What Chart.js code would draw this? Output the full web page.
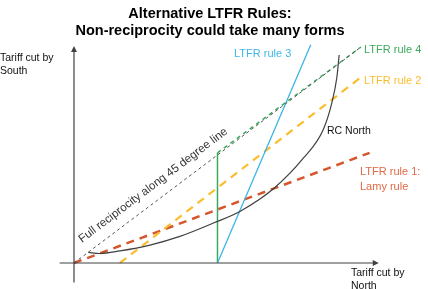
<!DOCTYPE html>
<html>
<head>
<meta charset="utf-8">
<script src="https://cdn.jsdelivr.net/npm/chart.js@4.4.0/dist/chart.umd.min.js"></script>
<style>
  html, body { margin: 0; padding: 0; background: #fff; }
  #wrap { width: 428px; height: 289px; }
</style>
</head>
<body>
<div id="wrap"><canvas id="chart" width="428" height="289"></canvas></div>
<script>
// schematic units: 0..100 on both axes (45 degree line goes 0,0 -> 100,100)
const fullReciprocity = [{x: 0, y: 0}, {x: 100, y: 100}];
const ltfrRule1 = [{x: 0, y: 0}, {x: 103, y: 51}];
const ltfrRule2 = [{x: 16, y: 0}, {x: 100, y: 86}];
const ltfrRule3 = [{x: 50, y: 0}, {x: 82.5, y: 101}];
const ltfrRule4Vertical = [{x: 50, y: 0}, {x: 50, y: 51}];
const ltfrRule4Diagonal = [{x: 50, y: 51}, {x: 100, y: 100}];
const rcNorth = [
    {x: 5, y: 4.9}, {x: 9, y: 4.4}, {x: 16, y: 5.6}, {x: 26.5, y: 8.3}, {x: 36.9, y: 12.3},
    {x: 48.8, y: 18.6}, {x: 58.1, y: 24.1}, {x: 69.7, y: 34.6}, {x: 79.9, y: 48.5},
    {x: 86.8, y: 61.6}, {x: 89.8, y: 73.9}, {x: 91.6, y: 86}, {x: 92.4, y: 96.3}
];
const xAxisLine = [{x: -5, y: 0}, {x: 105.5, y: 0}];
const yAxisLine = [{x: 0, y: -9}, {x: 0, y: 99.5}];

const labelFont = '"Liberation Sans", Arial, sans-serif';

const textPlugin = {
    id: 'texts',
    afterDraw(chart) {
        const ctx = chart.ctx;
        const xs = chart.scales.x;
        const ys = chart.scales.y;
        ctx.save();

        // axis arrowheads
        ctx.fillStyle = '#404040';
        let ax = xs.getPixelForValue(105.5), ay = ys.getPixelForValue(0);
        ctx.beginPath();
        ctx.moveTo(ax + 2, ay); ctx.lineTo(ax - 4, ay - 3); ctx.lineTo(ax - 4, ay + 3);
        ctx.fill();
        ax = xs.getPixelForValue(0); ay = ys.getPixelForValue(99.5);
        ctx.beginPath();
        ctx.moveTo(ax, ay - 2); ctx.lineTo(ax - 3, ay + 4); ctx.lineTo(ax + 3, ay + 4);
        ctx.fill();

        // title
        ctx.fillStyle = '#000';
        ctx.textAlign = 'center';
        ctx.textBaseline = 'alphabetic';
        ctx.font = 'bold 14.5px ' + labelFont;
        ctx.fillText('Alternative LTFR Rules:', 210, 18);
        ctx.fillText('Non-reciprocity could take many forms', 210, 35);

        ctx.textAlign = 'left';
        ctx.font = '10.5px ' + labelFont;
        ctx.fillStyle = '#111';
        ctx.fillText('Tariff cut by', 0, 61);
        ctx.fillText('South', 0, 74);
        ctx.fillText('Tariff cut by', 351, 276);
        ctx.fillText('North', 351, 289);
        ctx.fillText('RC North', 327, 134);

        ctx.font = '11px ' + labelFont;
        ctx.fillStyle = '#3db5e6';
        ctx.fillText('LTFR rule 3', 234, 57);
        ctx.fillStyle = '#3caa5e';
        ctx.fillText('LTFR rule 4', 364, 53);
        ctx.fillStyle = '#fbbd2e';
        ctx.fillText('LTFR rule 2', 364, 84);
        ctx.fillStyle = '#df6a45';
        ctx.fillText('LTFR rule 1:', 360, 175);
        ctx.fillText('Lamy rule', 360, 190);

        // label along the 45 degree line
        const x0 = xs.getPixelForValue(0), y0 = ys.getPixelForValue(0);
        const x1 = xs.getPixelForValue(100), y1 = ys.getPixelForValue(100);
        const ang = Math.atan2(y1 - y0, x1 - x0);
        ctx.translate(82, 243);
        ctx.rotate(ang);
        ctx.fillStyle = '#333';
        ctx.font = '11.6px ' + labelFont;
        ctx.fillText('Full reciprocity along 45 degree line', 0, 0);
        ctx.restore();
    }
};

function seg(data, color, width, dash) {
    return {
        data: data,
        borderColor: color,
        borderWidth: width,
        borderDash: dash || [],
        pointRadius: 0,
        fill: false,
        tension: 0
    };
}

const rcSet = seg(rcNorth, '#404040', 1.2);
rcSet.cubicInterpolationMode = 'monotone';

const rule4Diag = seg(ltfrRule4Diagonal, '#3caa5e', 1.5, [4, 4]);

new Chart(document.getElementById('chart'), {
    type: 'line',
    data: {
        datasets: [
            seg(xAxisLine, '#404040', 1.2),
            seg(yAxisLine, '#404040', 1.2),
            seg(fullReciprocity, '#555', 1, [3, 3]),
            rcSet,
            seg(ltfrRule3, '#3db5e6', 1.3),
            seg(ltfrRule4Vertical, '#3caa5e', 1.5),
            rule4Diag,
            seg(ltfrRule2, '#fbbd2e', 2.2, [8, 6]),
            seg(ltfrRule1, '#d5562c', 2.5, [8, 6])
        ]
    },
    options: {
        responsive: false,
        animation: false,
        layout: { padding: 0 },
        plugins: {
            legend: { display: false },
            tooltip: { enabled: false },
            title: { display: false }
        },
        scales: {
            x: { type: 'linear', display: false, min: -25.78, max: 123.35 },
            y: { type: 'linear', display: false, min: -12.04, max: 121.76 }
        }
    },
    plugins: [textPlugin]
});
</script>
</body>
</html>
